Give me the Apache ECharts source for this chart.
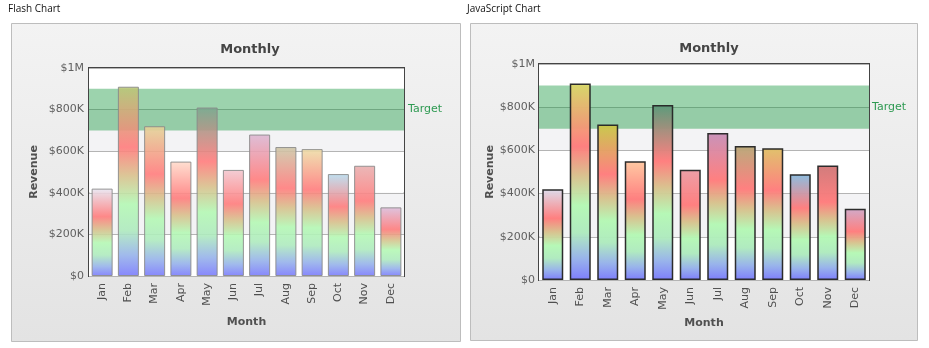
<!DOCTYPE html>
<html>
<head>
<meta charset="utf-8">
<script src="https://cdn.jsdelivr.net/npm/echarts@6/dist/echarts.min.js"></script>
<style>
html,body{margin:0;padding:0;background:#fff;}
#c{width:929px;height:348px;}
</style>
</head>
<body>
<div id="c"></div>
<script>
// ---- data ----
const months = ['Jan','Feb','Mar','Apr','May','Jun','Jul','Aug','Sep','Oct','Nov','Dec'];
const revenue = [420000, 910000, 720000, 550000, 810000, 510000, 680000, 620000, 610000, 490000, 530000, 330000];
const topColorsFlash = ['#e8e6f2','#b8c878','#e4d498','#ffdccc','#7aa890','#f2c8d0','#dcb8d4','#ccc8a8','#eedea8','#b8dcee','#e8b0b0','#dcbedc'];
const topColorsJS = ['#dcdcec','#d8d868','#c8c848','#ffc8a0','#5a9a7a','#ec9ca4','#c890b8','#b8a878','#e0c068','#88bce0','#d07878','#d0a8c8'];
const yTickLabels = ['$0','$200K','$400K','$600K','$800K','$1M'];
const targetBand = [700000, 900000];
const targetLabel = 'Target';
const chartTitle = 'Monthly';
const xName = 'Month';
const yName = 'Revenue';
const panelLabels = ['Flash Chart','JavaScript Chart'];

const FONT = 'DejaVu Sans';

function grad(top){
  return new echarts.graphic.LinearGradient(0,0,0,1,[
    {offset:0, color: top},
    {offset:0.32, color:'#ff7c7c'},
    {offset:0.47, color:'#d8c08c'},
    {offset:0.62, color:'#b4f8b4'},
    {offset:0.76, color:'#aeeabe'},
    {offset:0.89, color:'#96b2ea'},
    {offset:1, color:'#7a7afc'}
  ]);
}

const grids = [
  {left:89, top:68, width:315, height:208},
  {left:539, top:64, width:330, height:216}
];
const nameGaps = [{y:49, x:41},{y:41, x:37}];
const titlePos = [{x:245, y:45},{x:704, y:44}];

const chart = echarts.init(document.getElementById('c'), null, {renderer:'canvas'});

const xAxes = [], yAxes = [], series = [], titles = [];
[0,1].forEach(i=>{
  xAxes.push({
    type:'category', gridIndex:i, data: months,
    name: xName, nameLocation:'middle', nameGap: nameGaps[i].x,
    nameTextStyle:{fontFamily:FONT, fontSize:11, fontWeight:'bold', color:'#505050'},
    axisLine:{show:false}, axisTick:{show:false},
    axisLabel:{rotate:90, margin:7, fontFamily:FONT, fontSize:11, color:'#505050', interval:0}
  });
  yAxes.push({
    type:'value', gridIndex:i, min:0, max:1000000, interval:200000,
    name: yName, nameLocation:'middle', nameGap: nameGaps[i].y, nameRotate:90,
    nameTextStyle:{fontFamily:FONT, fontSize:11, fontWeight:'bold', color:'#505050'},
    axisLine:{show:false}, axisTick:{show:false},
    axisLabel:{margin: i===0?5:4, fontFamily:FONT, fontSize:11, color:'#606060',
      formatter:(v)=>yTickLabels[Math.round(v/200000)]},
    splitLine:{show:true, lineStyle:{color:'#b4b4b4', width:1}},
    splitArea:{show:true, areaStyle:{color:['#ffffff','#f3f3f5']}}
  });
  const tops = i===0 ? topColorsFlash : topColorsJS;
  series.push({
    type:'bar', xAxisIndex:i, yAxisIndex:i, barWidth:21, z:2,
    data: revenue.map((v,k)=>({value:v, itemStyle:{color:grad(tops[k])}})),
    itemStyle: i===0 ? {borderColor:'#8a8a8a', borderWidth:1, opacity:0.9}
                     : {borderColor:'#262626', borderWidth:1.5, opacity:0.97},
    animation:false
  });
  series.push({
    type:'line', xAxisIndex:i, yAxisIndex:i, z:10, symbol:'none',
    data: months.map(()=>null), animation:false,
    markArea:{
      silent:true,
      itemStyle:{color:'rgba(20,150,60,0.42)'},
      label:{show:true, position:'right', distance: i===0?4:3, color:'#2e9a52', fontFamily:FONT, fontSize:11},
      data:[[{yAxis:targetBand[0], name:targetLabel},{yAxis:targetBand[1]}]]
    }
  });
  titles.push({
    text: chartTitle, left: titlePos[i].x, top: titlePos[i].y, textAlign:'center', textVerticalAlign:'middle',
    textStyle:{fontFamily:FONT, fontSize:13, fontWeight:'bold', color:'#454545'}
  });
});

const panelGrad = () => new echarts.graphic.LinearGradient(0,0,0,1,[
  {offset:0, color:'#f3f3f3'},{offset:1, color:'#e3e3e3'}
]);

chart.setOption({
  animation:false,
  backgroundColor:'#ffffff',
  title: titles,
  grid: grids.map(g=>Object.assign({show:true, borderColor:'#444444', borderWidth:2, backgroundColor:'transparent'}, g)),
  xAxis: xAxes,
  yAxis: yAxes,
  series: series,
  graphic: [
    {type:'rect', z:-10, shape:{x:11.5, y:23.5, width:449, height:318}, style:{fill:panelGrad(), stroke:'#bdbdbd', lineWidth:1}},
    {type:'rect', z:-10, shape:{x:470.5, y:23.5, width:447, height:317}, style:{fill:panelGrad(), stroke:'#bdbdbd', lineWidth:1}},
    {type:'text', z:5, left:8, top:4, style:{text:panelLabels[0], font:'10px "Open Sans"', fill:'#111'}},
    {type:'text', z:5, left:467, top:4, style:{text:panelLabels[1], font:'10px "Open Sans"', fill:'#111'}}
  ]
});
</script>
</body>
</html>
